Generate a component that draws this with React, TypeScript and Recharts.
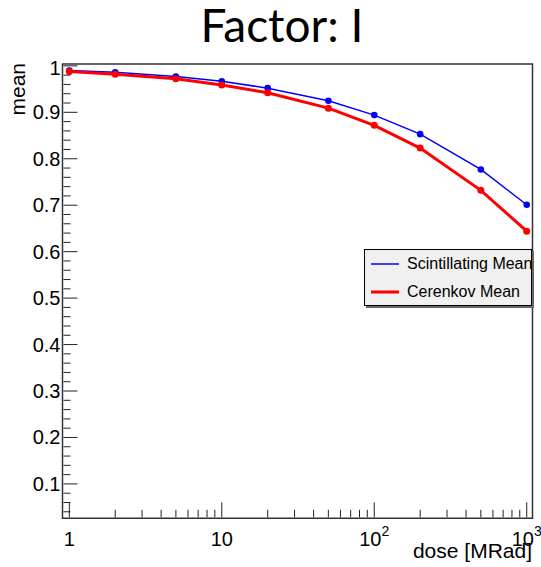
import { LineChart, Line, XAxis, YAxis, ReferenceArea, Legend } from "recharts";

// dose points [MRad]
const doses = [1, 2, 5, 10, 20, 50, 100, 200, 500, 1000];
const scintillatingMean = [0.99, 0.986, 0.977, 0.967, 0.952, 0.925, 0.894, 0.853, 0.777, 0.701];
const cerenkovMean = [0.988, 0.982, 0.972, 0.959, 0.942, 0.909, 0.872, 0.823, 0.732, 0.644];

const xMajorTicks = [1, 10, 100, 1000];
const xTickBase = ["1", "10", "10", "10"];
const xTickExp = ["", "", "2", "3"];
const yMajorTicks = [0.1, 0.2, 0.3, 0.4, 0.5, 0.6, 0.7, 0.8, 0.9, 1];
const yTickLabels = ["0.1", "0.2", "0.3", "0.4", "0.5", "0.6", "0.7", "0.8", "0.9", "1"];

const X_DOMAIN = [0.902, 1091];
const Y_DOMAIN = [0.026, 1.004];

// minor ticks: 2..9 in each decade, 0.02 steps on y
const xTicks: number[] = [];
[1, 10, 100].forEach((d) => {
  for (let k = 1; k < 10; k++) xTicks.push(k * d);
});
xTicks.push(1000);
const yTicks: number[] = [];
for (let k = 2; k <= 50; k++) yTicks.push(Math.round(k * 2) / 100);

const chartData = doses.map((d, i) => ({
  dose: d,
  scint: scintillatingMean[i],
  ceren: cerenkovMean[i],
}));

const FONT = "'Liberation Sans', Helvetica, Arial, sans-serif";
const legendOrder = ["scint", "ceren"];
const widths: Record<string, number> = { scint: 1.5, ceren: 3 };

const XTick = (props: any) => {
  const { x, payload } = props;
  const y = props.y - 1;
  const idx = xMajorTicks.indexOf(payload.value);
  const major = idx >= 0;
  return (
    <g>
      <line x1={x} x2={x} y1={y} y2={y - (major ? 15 : 7.5)} stroke="#222" strokeWidth={1} />
      {major && (
        <text x={x} y={y + 29} textAnchor="middle" fontSize={20} fontFamily={FONT} fill="#000">
          {xTickBase[idx]}
          {xTickExp[idx] && (
            <tspan fontSize={14} dy={-10}>
              {xTickExp[idx]}
            </tspan>
          )}
        </text>
      )}
    </g>
  );
};

const YTick = (props: any) => {
  const { y, payload } = props;
  const x = props.x + 1;
  const v = payload.value;
  const idx = yMajorTicks.findIndex((m) => Math.abs(m - v) < 1e-6);
  const major = idx >= 0;
  return (
    <g>
      <line x1={x} x2={x + (major ? 14 : 7)} y1={y} y2={y} stroke="#222" strokeWidth={1} />
      {major && (
        <text
          x={x - 3}
          y={y + (v === 1 ? 9 : 7)}
          textAnchor="end"
          fontSize={20}
          fontFamily={FONT}
          fill="#000"
        >
          {yTickLabels[idx]}
        </text>
      )}
    </g>
  );
};

const renderLegend = (props: any) => {
  const payload = [...(props.payload || [])].sort(
    (a: any, b: any) => legendOrder.indexOf(a.dataKey) - legendOrder.indexOf(b.dataKey)
  );
  return (
    <div
      style={{
        boxSizing: "border-box",
        width: 168,
        height: 57,
        background: "#f0f0f0",
        border: "1px solid #000",
        boxShadow: "2px 2px 0 #666",
        overflow: "hidden",
        fontFamily: FONT,
        fontSize: 16,
        color: "#000",
        position: "relative",
      }}
    >
      {payload.map((entry: any, i: number) => (
        <div
          key={entry.value}
          style={{
            position: "absolute",
            left: 0,
            top: i === 0 ? 3 : 31,
            height: 22,
            display: "flex",
            alignItems: "center",
            whiteSpace: "nowrap",
          }}
        >
          <svg width={42} height={22}>
            <line x1={6} x2={34} y1={11} y2={11} stroke={entry.color} strokeWidth={widths[entry.dataKey] || 2} />
          </svg>
          <span>{entry.value}</span>
        </div>
      ))}
    </div>
  );
};

export default function App() {
  return (
    <div style={{ position: "absolute", left: 0, top: 0, width: 541, height: 567, background: "#fff" }}>
      <LineChart
        width={541}
        height={567}
        data={chartData}
        margin={{ top: 64, right: 8.5, bottom: 47.7, left: 61.5 }}
      >
        <XAxis
          dataKey="dose"
          type="number"
          scale="log"
          domain={X_DOMAIN}
          allowDataOverflow
          ticks={xTicks}
          interval={0}
          tick={XTick}
          tickLine={false}
          axisLine={false}
          tickSize={0}
          tickMargin={0}
          height={1}
        />
        <YAxis
          type="number"
          domain={Y_DOMAIN}
          allowDataOverflow
          ticks={yTicks}
          interval={0}
          tick={YTick}
          tickLine={false}
          axisLine={false}
          tickSize={0}
          tickMargin={0}
          width={1}
        />
        <ReferenceArea
          x1={X_DOMAIN[0]}
          x2={X_DOMAIN[1]}
          y1={Y_DOMAIN[0]}
          y2={Y_DOMAIN[1]}
          fill="none"
          stroke="#333"
          strokeWidth={1.5}
          ifOverflow="visible"
        />
        <Legend
          content={renderLegend}
          layout="horizontal"
          verticalAlign="middle"
          align="center"
          wrapperStyle={{ left: 364, top: 249, width: 170, height: 59 }}
        />
        <Line
          dataKey="scint"
          name="Scintillating Mean"
          stroke="#0000ff"
          strokeWidth={1.5}
          dot={{ r: 3.3, fill: "#0000ff", stroke: "#0000ff", strokeWidth: 0 }}
          isAnimationActive={false}
        />
        <Line
          dataKey="ceren"
          name="Cerenkov Mean"
          stroke="#ff0000"
          strokeWidth={3}
          dot={{ r: 3.5, fill: "#ff0000", stroke: "#ff0000", strokeWidth: 0 }}
          isAnimationActive={false}
        />
      </LineChart>
      <svg width={541} height={567} style={{ position: "absolute", left: 0, top: 0, pointerEvents: "none" }}>
        <text x={282} y={42} textAnchor="middle" fontSize={46} fontFamily="Lato, 'Open Sans', sans-serif" fill="#000">
          Factor: I
        </text>
        <text x={532} y={558} textAnchor="end" fontSize={21} fontFamily={FONT} fill="#000">
          dose [MRad]
        </text>
        <text transform="rotate(-90)" x={-63} y={25} textAnchor="end" fontSize={21} fontFamily={FONT} fill="#000">
          mean
        </text>
      </svg>
    </div>
  );
}
